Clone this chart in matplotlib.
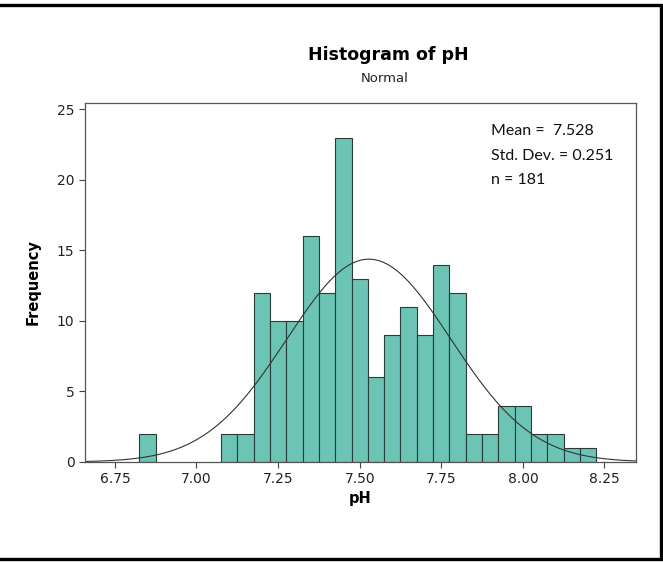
import numpy as np
import matplotlib
matplotlib.use("Agg")
import matplotlib.pyplot as plt
from matplotlib.lines import Line2D

# histogram bins (width 0.05) and their counts
bin_centers = [6.85, 7.10, 7.15, 7.20, 7.25, 7.30, 7.35, 7.40, 7.45, 7.50,
               7.55, 7.60, 7.65, 7.70, 7.75, 7.80, 7.85, 7.90, 7.95, 8.00,
               8.05, 8.10, 8.15, 8.20]
counts = [2, 2, 2, 12, 10, 10, 16, 12, 23, 13,
          6, 9, 11, 9, 14, 12, 2, 2, 4, 4,
          2, 2, 1, 1]
bin_width = 0.05

mean = 7.528
sd = 0.251
n = 181

x_ticks = [6.75, 7.00, 7.25, 7.50, 7.75, 8.00, 8.25]
y_ticks = [0, 5, 10, 15, 20, 25]

fig = plt.figure(figsize=(6.63, 5.62), dpi=100)
ax = fig.add_axes([0.128, 0.178, 0.831, 0.639])

ax.bar(bin_centers, counts, width=bin_width, color="#6cc4b5",
       edgecolor="#2b3b38", linewidth=0.8)

# fitted normal curve
xx = np.linspace(6.658, 8.346, 300)
yy = n * bin_width / (sd * np.sqrt(2 * np.pi)) * np.exp(-0.5 * ((xx - mean) / sd) ** 2)
ax.plot(xx, yy, color="#333333", linewidth=0.8)

ax.set_xlim(6.658, 8.346)
ax.set_ylim(0, 25.47)
ax.set_xticks(x_ticks)
ax.set_xticklabels(["%.2f" % t for t in x_ticks])
ax.set_yticks(y_ticks)
ax.tick_params(direction="out", length=4, width=0.8, colors="#444444",
               labelsize=10, labelcolor="#222222")
for s in ax.spines.values():
    s.set_color("#555555")
    s.set_linewidth(0.9)

ax.set_xlabel("pH", fontsize=10.5, fontweight="bold", labelpad=3)
ax.set_ylabel("Frequency", fontsize=10.5, fontweight="bold", labelpad=12)

fig.text(0.585, 0.902, "Histogram of pH", ha="center", va="center",
         fontsize=12.5, fontweight="bold")
fig.text(0.580, 0.861, "Normal", ha="center", va="center", fontsize=9.5,
         color="#222222")

stats = ["Mean =  %.3f" % mean, "Std. Dev. = %.3f" % sd, "n = %d" % n]
for i, line in enumerate(stats):
    fig.text(0.741, 1 - (131 + 24.5 * i) / 562, line, ha="left", va="center",
             fontsize=11.5, family="Lato", color="#111111")

# outer frame: top, right and bottom edges only
fx = [0.0, 0.997, 0.997, 0.0]
fy = [0.991, 0.991, 0.005, 0.005]
fig.lines.append(Line2D(fx, fy, transform=fig.transFigure, color="black",
                        linewidth=2.4, solid_joinstyle="miter"))

fig.savefig("out.png", dpi=100)
